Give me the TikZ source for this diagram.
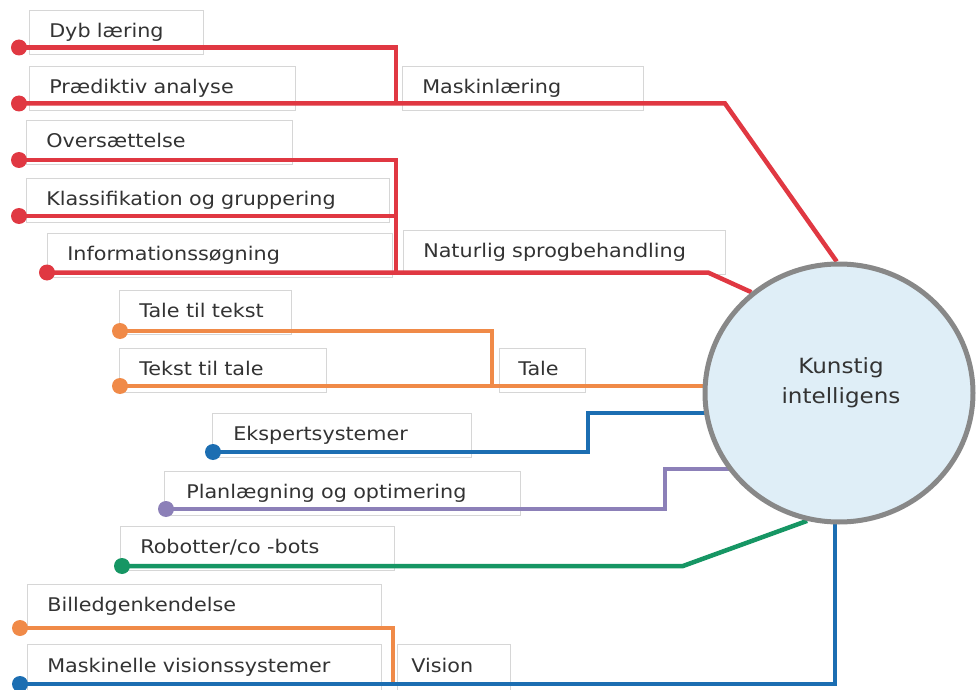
\documentclass[tikz,border=0pt]{standalone}
\usepackage{fontspec}
\setmainfont{DejaVu Sans}[FakeStretch=1.1]
\usepackage{tikz}
\usetikzlibrary{positioning}
\usetikzlibrary{shapes.geometric}
\usepackage{xcolor}

\definecolor{aired}{RGB}{224,56,66}
\definecolor{aiorange}{RGB}{240,138,72}
\definecolor{aiblue}{RGB}{28,110,178}
\definecolor{aipurple}{RGB}{140,128,184}
\definecolor{aigreen}{RGB}{22,150,100}
\definecolor{ringgray}{RGB}{136,136,136}
\definecolor{hubfill}{RGB}{223,238,247}
\definecolor{boxgray}{RGB}{214,214,214}
\definecolor{txtgray}{RGB}{51,51,51}

\newdimen\px \px=0.025cm

\pgfdeclarelayer{wire}
\pgfdeclarelayer{hub}
\pgfsetlayers{main,wire,hub}

\tikzset{
  lbl/.style={draw=boxgray, fill=white, anchor=north west, align=left, inner xsep=20\px, inner ysep=0pt,
    minimum height=44\px, text height=0.73em, text depth=0pt, text=txtgray, font=\fontsize{13.4}{16}\selectfont},
  wire/.style={line width=4.5\px},
  dot/.style={circle, draw=none, inner sep=0pt, minimum size=16\px},
}

\begin{document}
\begin{tikzpicture}[x=0.025cm, y=-0.025cm]

\useasboundingbox (0,0) rectangle (976,690);

% the hub
\begin{pgfonlayer}{hub}
\node[ellipse, draw=ringgray, line width=5\px, fill=hubfill, minimum width=268\px, minimum height=258\px] (hub) at (839,393) {};
\node[align=center, text=txtgray, font=\fontsize{14.9}{21.3}\selectfont] (hubtext) at (841,383) {Kunstig\\intelligens};
\end{pgfonlayer}

% label boxes
\node[lbl, text width=134\px] (dyb) at (29,10) {Dyb læring};
\node[lbl, text width=226\px] (praed) at (29,66) {Prædiktiv analyse};
\node[lbl, text width=201\px] (mask) at (402,66) {Maskinlæring};

\node[lbl, text width=226\px] (overs) at (26,120) {Oversættelse};
\node[lbl, text width=323\px] (klass) at (26,178) {Klassifikation og gruppering};
\node[lbl, text width=305\px] (info) at (47,233) {Informationssøgning};
\node[lbl, text width=282\px] (nlp) at (403,230) {Naturlig sprogbehandling};

\node[lbl, text width=132\px] (ttt) at (119,290) {Tale til tekst};
\node[lbl, text width=167\px] (ttl) at (119,348) {Tekst til tale};
\node[lbl, text width=48\px, inner xsep=19\px] (tale) at (499,348) {Tale};

\node[lbl, text width=217\px, inner xsep=21\px] (eksp) at (212,413) {Ekspertsystemer};
\node[lbl, text width=312\px, inner xsep=22\px] (plan) at (164,471) {Planlægning og optimering};
\node[lbl, text width=234\px] (robot) at (120,526) {Robotter/co -bots};

\node[lbl, text width=314\px] (billed) at (27,584) {Billedgenkendelse};
\node[lbl, text width=314\px, minimum height=46\px] (maskv) at (27,644) {Maskinelle visionssystemer};
\node[lbl, text width=85\px, inner xsep=14\px, minimum height=46\px] (vision) at (397,644) {Vision};

% end dots
\node[dot, fill=aired] (d1) at (19,47.5) {};
\node[dot, fill=aired] (d2) at (19,103.5) {};
\node[dot, fill=aired] (d3) at (19,160) {};
\node[dot, fill=aired] (d4) at (19,216) {};
\node[dot, fill=aired] (d5) at (47,272.5) {};
\node[dot, fill=aiorange] (d6) at (120,331) {};
\node[dot, fill=aiorange] (d7) at (120,386) {};
\node[dot, fill=aiblue] (d8) at (213,452) {};
\node[dot, fill=aipurple] (d9) at (166,509) {};
\node[dot, fill=aigreen] (d10) at (122,566) {};
\node[dot, fill=aiorange] (d11) at (20,628) {};
\node[dot, fill=aiblue] (d12) at (20,684) {};

% bends
\coordinate (j1) at (396,103.5);
\coordinate (k1) at (725,103.5);
\coordinate (j2) at (396,272.5);
\coordinate (k2) at (708,272.5);
\coordinate (j3) at (492,386);
\coordinate (k4) at (588,413);
\coordinate (k5) at (665,469);
\coordinate (k6) at (683,566);
\coordinate (j4) at (393,684);
\coordinate (k7) at (835,684);

\begin{pgfonlayer}{wire}
% Maskinlæring
\draw[wire, aired] (d1.center) -| (j1);
\draw[wire, aired] (d2.center) -- (k1) -- (hub.91);

% Naturlig sprogbehandling
\draw[wire, aired] (d3.center) -| (j2);
\draw[wire, aired] (d4.center) -- (d4 -| j2);
\draw[wire, aired] (d5.center) -- (k2) -- (hub.131);

% Tale
\draw[wire, aiorange] (d6.center) -| (j3);
\draw[wire, aiorange] (d7.center) -- (d7 -| hub.center);

\draw[wire, aiblue] (d8.center) -| (k4) -- (k4 -| hub.center);
\draw[wire, aipurple] (d9.center) -| (k5) -- (k5 -| hub.center);
\draw[wire, aigreen] (d10.center) -- (k6) -- (hub.256);

% Vision
\draw[wire, aiorange] (d11.center) -| (j4);
\draw[wire, aiblue] (d12.center) -- (k7) -- (k7 |- hub.center);
\end{pgfonlayer}

\end{tikzpicture}
\end{document}
